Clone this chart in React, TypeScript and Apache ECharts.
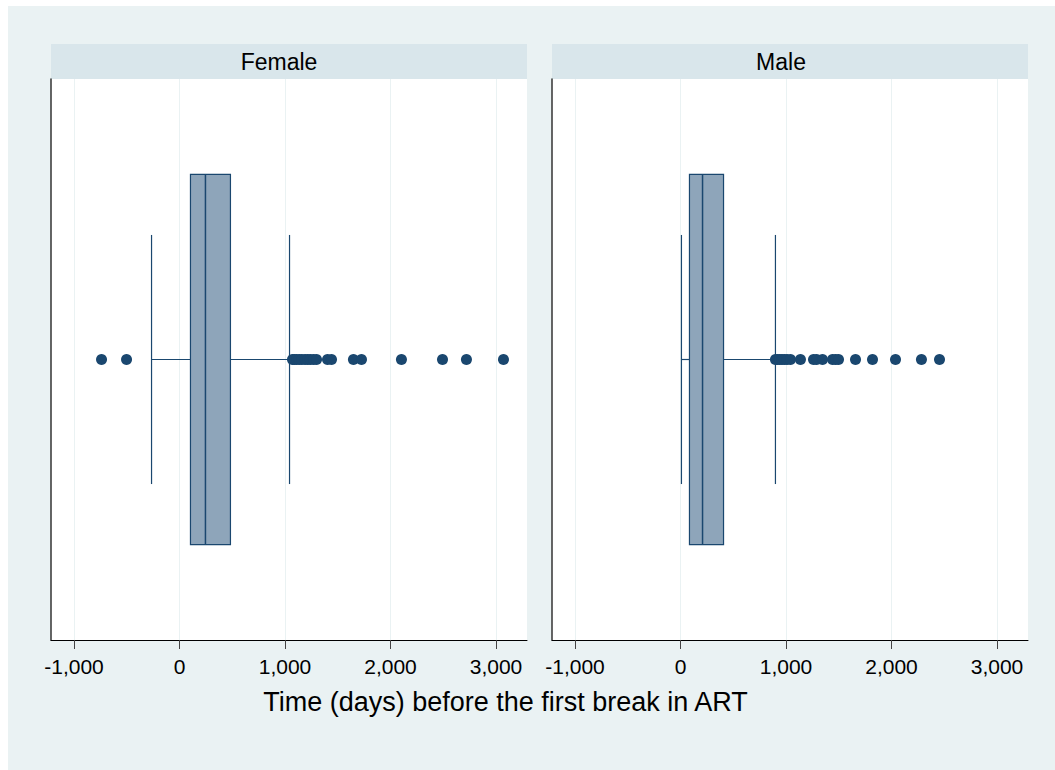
import React, { useEffect, useRef } from "react";
import * as echarts from "echarts";

// ---- Data ----
const panels = ["Female", "Male"];
const axisTitle = "Time (days) before the first break in ART";
const tickValues = [-1000, 0, 1000, 2000, 3000];
// [lower whisker, Q1, median, Q3, upper whisker]
const femaleBox = [-265, 104, 246, 483, 1043];
const maleBox = [9, 85, 209, 408, 900];
const femaleOutliers = [-739, -502, 1071, 1088, 1110, 1135, 1160, 1190, 1215, 1240, 1270, 1299, 1403, 1441, 1649, 1725, 2104, 2493, 2720, 3071];
const maleOutliers = [900, 918, 940, 962, 985, 1010, 1043, 1137, 1261, 1290, 1346, 1441, 1470, 1498, 1659, 1820, 2038, 2284, 2455];
const xMin = -1218;
const xMax = 3294;

// ---- Style ----
const FONT = "'Liberation Sans', Arial, Helvetica, sans-serif";
const NAVY = "#1A476F";
const BOX_FILL = "#8EA5BA";
const BG = "#EAF2F3";
const STRIP = "#D9E6EB";
const BOX_HALF = 0.33;
const CAP_HALF = 0.222;
const Y_CENTER = 0.5;

const GRID_TOP = 73;
const GRID_H = 561;
const GRID_W = 476;
const GRID_LEFTS = [43, 544];
const HEADER_H = 35;
const HEADER_TEXT_X = [271, 773];

export default function App() {
  const ref = useRef<HTMLDivElement>(null);

  useEffect(() => {
    if (!ref.current) return;
    const chart = echarts.init(ref.current, null, { renderer: "svg" });

    const boxes = [femaleBox, maleBox];
    const outliers = [femaleOutliers, maleOutliers];

    const grids = GRID_LEFTS.map((left) => ({
      left,
      top: GRID_TOP,
      width: GRID_W,
      height: GRID_H,
      containLabel: false,
      backgroundColor: "#ffffff",
      show: true,
      borderWidth: 0,
    }));

    const xAxes = GRID_LEFTS.map((_, i) => ({
      type: "value",
      gridIndex: i,
      min: xMin,
      max: xMax,
      axisLine: { show: true, onZero: false, lineStyle: { color: "#000000", width: 1 } },
      axisTick: {
        show: true,
        length: 9,
        customValues: tickValues,
        lineStyle: { color: "#444444", width: 1 },
      },
      axisLabel: {
        show: true,
        customValues: tickValues,
        margin: 16,
        fontSize: 21,
        fontFamily: FONT,
        color: "#000000",
        formatter: (v: number) => v.toLocaleString("en-US"),
      },
      splitLine: { show: true, lineStyle: { color: BG, width: 1 } },
    }));

    const yAxes = GRID_LEFTS.map((_, i) => ({
      type: "value",
      gridIndex: i,
      min: 0,
      max: 1,
      axisLine: { show: true, onZero: false, lineStyle: { color: "#333333", width: 1.5 } },
      axisTick: { show: false },
      axisLabel: { show: false },
      splitLine: { show: false },
    }));

    const series: any[] = [];
    boxes.forEach((b, i) => {
      series.push({
        type: "custom",
        xAxisIndex: i,
        yAxisIndex: i,
        encode: { x: [0, 1, 2, 3, 4] },
        data: [b],
        z: 2,
        renderItem: (_params: any, api: any) => {
          const lo = api.value(0);
          const q1 = api.value(1);
          const md = api.value(2);
          const q3 = api.value(3);
          const hi = api.value(4);
          const px = (v: number) => api.coord([v, Y_CENTER])[0];
          const py = (v: number) => api.coord([xMin, v])[1];
          const yc = py(Y_CENTER);
          const yBT = py(Y_CENTER + BOX_HALF);
          const yBB = py(Y_CENTER - BOX_HALF);
          const yCT = py(Y_CENTER + CAP_HALF);
          const yCB = py(Y_CENTER - CAP_HALF);
          const lineStyle = { stroke: NAVY, lineWidth: 1.2 };
          return {
            type: "group",
            children: [
              { type: "line", shape: { x1: px(lo), y1: yc, x2: px(q1), y2: yc }, style: lineStyle },
              { type: "line", shape: { x1: px(q3), y1: yc, x2: px(hi), y2: yc }, style: lineStyle },
              { type: "line", shape: { x1: px(lo), y1: yCT, x2: px(lo), y2: yCB }, style: lineStyle },
              { type: "line", shape: { x1: px(hi), y1: yCT, x2: px(hi), y2: yCB }, style: lineStyle },
              {
                type: "rect",
                shape: { x: px(q1), y: yBT, width: px(q3) - px(q1), height: yBB - yBT },
                style: { fill: BOX_FILL, stroke: NAVY, lineWidth: 1.2 },
              },
              { type: "line", shape: { x1: px(md), y1: yBT, x2: px(md), y2: yBB }, style: { stroke: NAVY, lineWidth: 1.5 } },
            ],
          };
        },
      });
      series.push({
        type: "scatter",
        xAxisIndex: i,
        yAxisIndex: i,
        symbol: "circle",
        symbolSize: 11,
        itemStyle: { color: NAVY, opacity: 1 },
        data: outliers[i].map((v) => [v, Y_CENTER]),
        z: 3,
      });
    });

    const graphic: any[] = [];
    panels.forEach((name, i) => {
      graphic.push({
        type: "rect",
        shape: { x: GRID_LEFTS[i], y: GRID_TOP - HEADER_H, width: GRID_W, height: HEADER_H },
        style: { fill: STRIP },
        silent: true,
      });
      graphic.push({
        type: "text",
        x: HEADER_TEXT_X[i],
        y: GRID_TOP - HEADER_H / 2,
        style: {
          text: name,
          fontSize: 23,
          fontFamily: FONT,
          fill: "#000000",
          align: "center",
          verticalAlign: "middle",
        },
      });
    });
    graphic.push({
      type: "text",
      x: 497.5,
      y: 696,
      style: {
        text: axisTitle,
        fontSize: 27,
        fontFamily: FONT,
        fill: "#000000",
        align: "center",
        verticalAlign: "middle",
      },
    });

    chart.setOption({
      animation: false,
      backgroundColor: BG,
      textStyle: { fontFamily: FONT },
      grid: grids,
      xAxis: xAxes,
      yAxis: yAxes,
      series,
      graphic,
    });

    return () => chart.dispose();
  }, []);

  return (
    <div
      ref={ref}
      style={{ position: "absolute", left: 8, top: 6, width: 1047, height: 764 }}
    />
  );
}
